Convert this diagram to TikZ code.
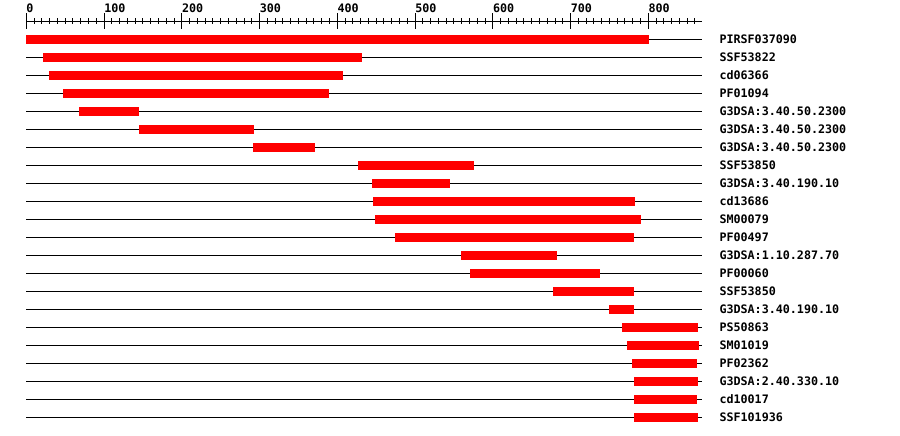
\documentclass[tikz,border=0pt]{standalone}
\usepackage{fontspec}
\newfontfamily\monob[BoldFont={DejaVu Sans Mono Bold}]{DejaVu Sans Mono}
\definecolor{barred}{RGB}{255,0,0}
\tikzset{
  trackline/.style={line width=1pt, black},
  domainbar/.style={fill=barred, draw=none},
  tracklabel/.style={anchor=base west, inner sep=0pt, font=\monob\bfseries\fontsize{11.7}{12}\selectfont},
  ticklabel/.style={anchor=base west, inner sep=0pt, font=\monob\bfseries\fontsize{11.7}{12}\selectfont},
}
\begin{document}
\begin{tikzpicture}[x=1pt,y=-1pt]
\useasboundingbox[fill=white] (0,0) rectangle (900,436);
% axis
\draw[trackline] (26.3,21.3) -- (701.5,21.3);
\foreach \v in {0,10,...,860}{
  \draw[line width=1pt] ({26.3+0.7775*\v},18.3) -- ({26.3+0.7775*\v},24.3);
}
\foreach \v in {0,100,...,800}{
  \draw[line width=1pt] ({26.3+0.7775*\v},13.3) -- ({26.3+0.7775*\v},28.7);
  \node[ticklabel] (t\v) at ({26.3+0.7775*\v},12.2) {\v};
}
% rows
\foreach \s/\e/\lab [count=\i from 0] in {
  26/649/PIRSF037090,
  43/362/SSF53822,
  49/343/cd06366,
  63/329/PF01094,
  79/139/G3DSA:3.40.50.2300,
  139/254/G3DSA:3.40.50.2300,
  253/315/G3DSA:3.40.50.2300,
  358/474/SSF53850,
  372/450/G3DSA:3.40.190.10,
  373/635/cd13686,
  375/641/SM00079,
  395/634/PF00497,
  461/557/G3DSA:1.10.287.70,
  470/600/PF00060,
  553/634/SSF53850,
  609/634/G3DSA:3.40.190.10,
  622/698/PS50863,
  627/699/SM01019,
  632/697/PF02362,
  634/698/G3DSA:2.40.330.10,
  634/697/cd10017,
  634/698/SSF101936}{
  \pgfmathsetmacro{\yy}{39.3+18*\i}
  \draw[trackline] (26.3,\yy) -- (701.5,\yy);
  \fill[domainbar] (\s,\yy-4.3) rectangle (\e,\yy+4.7);
  \node[tracklabel] (l\i) at (719.3,\yy+3.8) {\lab};
}
\end{tikzpicture}
\end{document}
